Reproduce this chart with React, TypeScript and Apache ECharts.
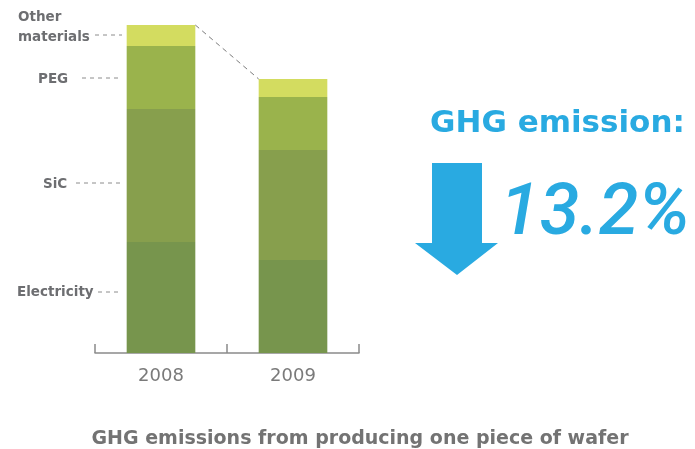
import React, { useEffect, useRef } from "react";
import * as echarts from "echarts";

const years = ["2008", "2009"];
const electricity = [111, 93];
const sic = [133, 110];
const peg = [63, 53];
const otherMaterials = [21, 18];
const seriesNames = ["Electricity", "SiC", "PEG", "Other materials"];
const seriesColors = ["#77954d", "#879f4d", "#9ab34c", "#d3dc60"];
const headline = "GHG emission:";
const reduction = "13.2%";
const title = "GHG emissions from producing one piece of wafer";

export default function App() {
  const ref = useRef<HTMLDivElement>(null);
  useEffect(() => {
    if (!ref.current) return;
    const chart = echarts.init(ref.current, undefined, { renderer: "svg" });
    const values = [electricity, sic, peg, otherMaterials];
    const totals = years.map((_, i) => values.reduce((s, arr) => s + arr[i], 0));
    const labelFont = { fontFamily: "DejaVu Sans", fontWeight: "bold", fontSize: 13.5, fill: "#6d6e71" };
    const dash = (x1: number, x2: number, y: number) => ({
      type: "line",
      shape: { x1, y1: y, x2, y2: y },
      style: { stroke: "#8c8c8c", lineWidth: 1, lineDash: [4, 4] },
      silent: true,
    });
    chart.setOption({
      animation: false,
      grid: { left: 95, right: 336, top: 13, bottom: 96 },
      xAxis: {
        type: "category",
        data: years,
        axisLine: { show: true, lineStyle: { color: "#8a8a8a", width: 1.5 } },
        axisTick: { show: true, inside: true, length: 9, lineStyle: { color: "#8a8a8a", width: 1.5 } },
        axisLabel: { color: "#7a7a7a", fontSize: 18, fontFamily: "DejaVu Sans", margin: 12 },
      },
      yAxis: { type: "value", min: 0, max: 340, show: false, splitLine: { show: false } },
      series: [
        ...seriesNames.map((name, k) => ({
          name,
          type: "bar",
          stack: "total",
          barWidth: "52%",
          data: values[k],
          itemStyle: { color: seriesColors[k] },
        })),
        {
          type: "custom",
          data: [[0, totals[0], 1, totals[1]]],
          renderItem: (params: any, api: any) => {
            const p1 = api.coord([api.value(0), api.value(1)]);
            const p2 = api.coord([api.value(2), api.value(3)]);
            const bw = api.size([1, 0])[0] * 0.52;
            return {
              type: "line",
              shape: { x1: p1[0] + bw / 2, y1: p1[1], x2: p2[0] - bw / 2, y2: p2[1] },
              style: { stroke: "#7a7a7a", lineWidth: 1, lineDash: [5, 4] },
            };
          },
          silent: true,
          z: 5,
        },
      ],
      graphic: [
        { type: "text", left: 18, top: 6, style: { ...labelFont, text: "Other\nmaterials", lineHeight: 20, textAlign: "left" } },
        dash(95, 122, 35),
        { type: "text", x: 38, y: 78, style: { ...labelFont, text: "PEG", textVerticalAlign: "middle" } },
        dash(82, 120, 78),
        { type: "text", x: 43, y: 183, style: { ...labelFont, text: "SiC", textVerticalAlign: "middle" } },
        dash(76, 122, 183),
        { type: "text", x: 17, y: 291, style: { ...labelFont, text: "Electricity", textVerticalAlign: "middle" } },
        dash(98, 122, 292),
        {
          type: "text",
          x: 430,
          y: 121,
          style: { text: headline, fontFamily: "DejaVu Sans", fontWeight: "bold", fontSize: 31, fill: "#29aae1", textVerticalAlign: "middle" },
        },
        {
          type: "polygon",
          shape: { points: [[432, 163], [482, 163], [482, 243], [498, 243], [457, 275], [415, 243], [432, 243]] },
          style: { fill: "#29aae1" },
        },
        {
          type: "text",
          x: 500,
          y: 209,
          style: { text: reduction, fontFamily: "Roboto", fontStyle: "italic", fontWeight: 500, fontSize: 72, fill: "#29aae1", textVerticalAlign: "middle" },
        },
        {
          type: "text",
          x: 360,
          y: 437,
          style: { text: title, fontFamily: "DejaVu Sans", fontWeight: "bold", fontSize: 19, fill: "#737373", textAlign: "center", textVerticalAlign: "middle" },
        },
      ],
    });
    return () => chart.dispose();
  }, []);
  return <div ref={ref} style={{ position: "fixed", left: 0, top: 0, width: 695, height: 449 }} />;
}
